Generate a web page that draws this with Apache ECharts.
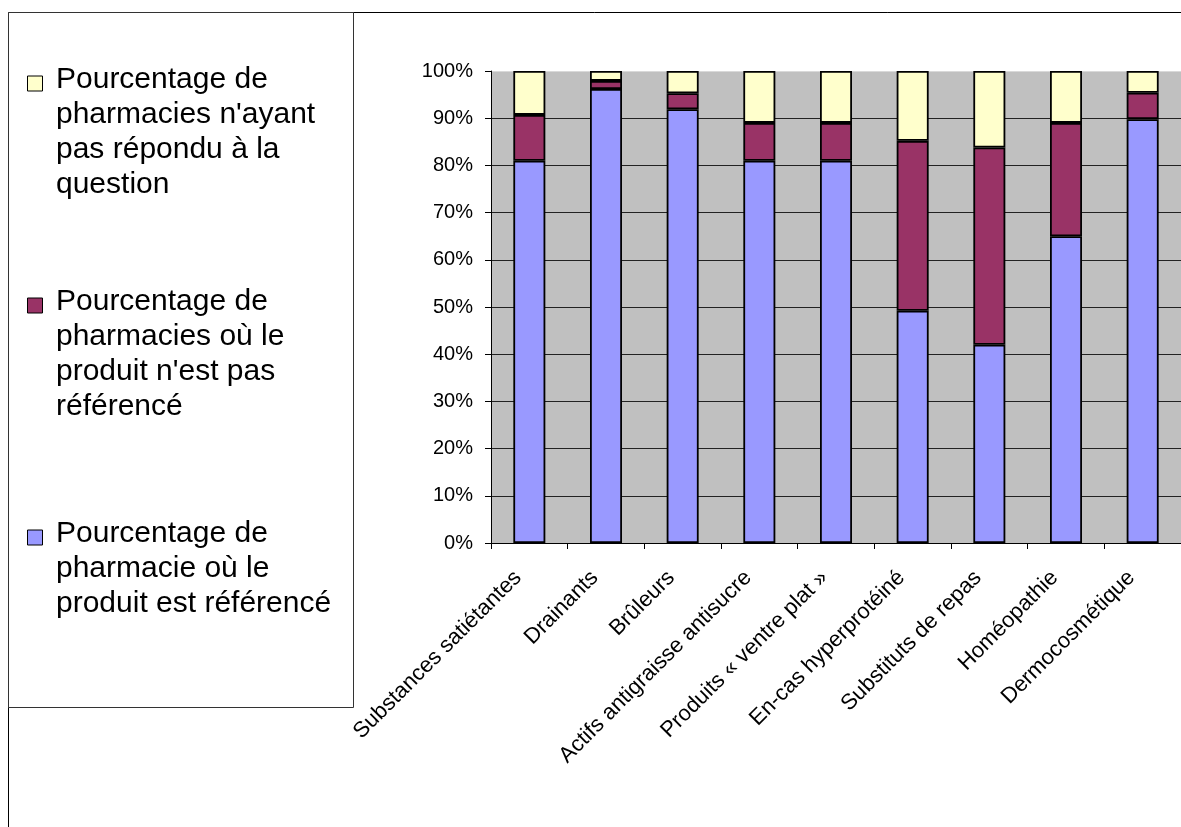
<!DOCTYPE html>
<html>
<head>
<meta charset="utf-8">
<script src="https://cdn.jsdelivr.net/npm/echarts@6/dist/echarts.min.js"></script>
<style>
  html, body { margin: 0; padding: 0; background: #fff; }
  #chart { width: 1181px; height: 827px; }
</style>
</head>
<body>
<div id="chart"></div>
<script>
// Product families surveyed
const categories = [
  'Substances satiétantes',
  'Drainants',
  'Brûleurs',
  'Actifs antigraisse antisucre',
  'Produits « ventre plat »',
  'En-cas hyperprotéiné',
  'Substituts de repas',
  'Homéopathie',
  'Dermocosmétique'
];

// Share of pharmacies (%) per product family
const referenced    = [81, 96.2, 91.9, 81, 81, 49.2, 42, 65, 89.8];
const notReferenced = [9.7, 1.7, 3.4, 8, 8, 36, 41.8, 24, 5.6];
const noAnswer      = [9.3, 2.1, 4.7, 11, 11, 14.8, 16.2, 11, 4.6];

const seriesNames = [
  "Pourcentage de\npharmacie où le\nproduit est référencé",
  "Pourcentage de\npharmacies où le\nproduit n'est pas\nréférencé",
  "Pourcentage de\npharmacies n'ayant\npas répondu à la\nquestion"
];
const seriesColors = ['#9999FF', '#993366', '#FFFFCC'];

const yTicks = [0, 10, 20, 30, 40, 50, 60, 70, 80, 90, 100];

const chart = echarts.init(document.getElementById('chart'), null, { renderer: 'canvas' });

const values = [referenced, notReferenced, noAnswer];
const series = values.map((arr, i) => ({
  name: seriesNames[i],
  type: 'bar',
  stack: 'total',
  barWidth: 32,
  data: arr,
  itemStyle: { color: seriesColors[i], borderColor: '#000', borderWidth: 1.8 },
  emphasis: { disabled: true }
}));

// Legend drawn as boxed text blocks, top item = last series
const legendTops = [516.5, 284.5, 62.5];
const legendLineHeight = 35;
const legendGraphics = [];
seriesNames.forEach((name, i) => {
  legendGraphics.push({
    type: 'rect',
    shape: { x: 27.5, y: legendTops[i] + 13.5, width: 15, height: 15 },
    style: { fill: seriesColors[i], stroke: '#000', lineWidth: 1 }
  });
  legendGraphics.push({
    type: 'text',
    x: 56, y: legendTops[i],
    style: {
      text: name, fill: '#000',
      font: '30px "Liberation Sans", Arial, sans-serif',
      lineHeight: legendLineHeight, verticalAlign: 'top', align: 'left'
    }
  });
});

const splitColors = yTicks.map((v, i) => (i === yTicks.length - 1 ? '#d9d9d9' : '#222'));

chart.setOption({
  animation: false,
  backgroundColor: '#fff',
  grid: {
    left: 491, top: 71, width: 696, height: 472,
    show: true, backgroundColor: '#C0C0C0', borderWidth: 0
  },
  xAxis: {
    type: 'category',
    data: categories,
    axisLine: { lineStyle: { color: '#000', width: 1 } },
    axisTick: { show: true, length: 6, lineStyle: { color: '#000' } },
    axisLabel: {
      rotate: 45, margin: 20, color: '#000', interval: 0,
      padding: [0, 16, 0, 0],
      fontFamily: '"Liberation Sans", Arial, sans-serif', fontSize: 22
    }
  },
  yAxis: {
    type: 'value',
    min: 0, max: 100, interval: 10,
    axisLine: { show: true, lineStyle: { color: '#000', width: 1 } },
    axisTick: { show: true, length: 6, lineStyle: { color: '#000' } },
    axisLabel: {
      formatter: '{value}%', margin: 18, color: '#000',
      fontFamily: '"Liberation Sans", Arial, sans-serif', fontSize: 20
    },
    splitLine: { show: true, lineStyle: { color: splitColors, width: 1 } }
  },
  graphic: [
    // outer chart frame (left and top edges)
    { type: 'line', shape: { x1: 8.5, y1: 12.5, x2: 1181, y2: 12.5 }, style: { stroke: '#000', lineWidth: 1 } },
    { type: 'line', shape: { x1: 8.5, y1: 12.5, x2: 8.5, y2: 827 }, style: { stroke: '#000', lineWidth: 1 } },
    // legend box
    { type: 'rect', shape: { x: 8.5, y: 12.5, width: 345, height: 695 }, style: { fill: '#fff', stroke: '#333', lineWidth: 1 } }
  ].concat(legendGraphics),
  series: series
});
</script>
</body>
</html>
